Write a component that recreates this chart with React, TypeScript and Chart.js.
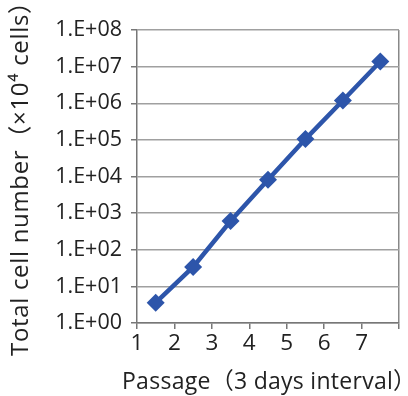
import React, { useEffect, useRef } from "react";
import { Chart, registerables } from "chart.js";

Chart.register(...registerables);

const passages = [1.5, 2.5, 3.5, 4.5, 5.5, 6.5, 7.5];
const cellCounts = [3.6, 34, 610, 8100, 105000, 1190000, 13800000];
const yTicks = [1, 1e1, 1e2, 1e3, 1e4, 1e5, 1e6, 1e7, 1e8];
const xTicks = [1, 2, 3, 4, 5, 6, 7, 8];
const xTitle = "Passage（3 days interval）";
const yTitle = "Total cell number（×10⁴ cells）";

const fam = "'Open Sans', 'Noto Sans CJK JP', sans-serif";

function drawFitted(
  ctx: CanvasRenderingContext2D,
  text: string,
  size: number,
  cx: number,
  by: number,
  target: number,
  rot: number
) {
  ctx.save();
  ctx.font = `${size}px ${fam}`;
  ctx.fillStyle = "#222";
  ctx.textAlign = "left";
  ctx.textBaseline = "alphabetic";
  const w = ctx.measureText(text).width;
  const n = Array.from(text).length;
  const ls = (target - w) / Math.max(1, n - 1);
  (ctx as any).letterSpacing = ls.toFixed(2) + "px";
  ctx.translate(cx, by);
  ctx.rotate(rot);
  ctx.fillText(text, -target / 2, 0);
  ctx.restore();
}

const titlePlugin = {
  id: "axisTitles",
  afterDraw(chart: any) {
    const ctx = chart.ctx as CanvasRenderingContext2D;
    drawFitted(ctx, xTitle, 23, 269, 389, 294, 0);
    drawFitted(ctx, yTitle, 24, 28, 173, 366, -Math.PI / 2);
  },
};

export default function App() {
  const ref = useRef<HTMLCanvasElement>(null);
  useEffect(() => {
    document.body.style.margin = "0";
    const ctx = ref.current!;
    const chart = new Chart(ctx, {
      type: "line",
      data: {
        datasets: [
          {
            data: passages.map((p, i) => ({ x: p, y: cellCounts[i] })),
            borderColor: "#2d55aa",
            backgroundColor: "#2d55aa",
            borderWidth: 4.5,
            pointStyle: "rectRot",
            pointRadius: 9,
            pointBorderWidth: 0,
            tension: 0,
          },
        ],
      },
      options: {
        animation: false,
        responsive: false,
        plugins: { legend: { display: false }, tooltip: { enabled: false } },
        layout: { padding: { top: 30, right: 7, left: 0, bottom: 0 } },
        scales: {
          x: {
            type: "linear",
            min: 1,
            max: 8,
            afterBuildTicks: (s: any) => {
              s.ticks = xTicks.map((v) => ({ value: v }));
            },
            afterFit: (s: any) => {
              s.height = 73;
            },
            ticks: {
              color: "#222",
              font: { family: fam, size: 22.5 },
              padding: 1,
              maxRotation: 0,
              autoSkip: false,
              callback: (v: any) => (v === 8 ? "" : String(v)),
            },
            grid: {
              color: (c: any) => (c.tick && c.tick.value === 8 ? "#888" : "rgba(0,0,0,0)"),
              tickColor: "#777",
              tickLength: 6,
              lineWidth: 1.5,
            },
            border: { color: "#777", width: 1.5 },
            title: { display: false },
          },
          y: {
            type: "logarithmic",
            min: 1,
            max: 1e8,
            afterBuildTicks: (s: any) => {
              s.ticks = yTicks.map((v) => ({ value: v }));
            },
            afterFit: (s: any) => {
              s.width = 137;
            },
            ticks: {
              color: "#222",
              font: { family: fam, size: 21.5 },
              padding: 9,
              autoSkip: false,
              callback: (v: any) => {
                const e = Math.round(Math.log10(v));
                return "1.E+" + (e < 10 ? "0" + e : String(e));
              },
            },
            grid: {
              color: "#a0a0a0",
              tickColor: "#777",
              tickLength: 6,
              lineWidth: 1.5,
            },
            border: { color: "#777", width: 1.5 },
            title: { display: false },
          },
        },
      },
      plugins: [titlePlugin],
    });
    return () => chart.destroy();
  }, []);
  return (
    <div style={{ width: 408, height: 396, background: "#fff" }}>
      <canvas ref={ref} width={408} height={396} />
    </div>
  );
}
